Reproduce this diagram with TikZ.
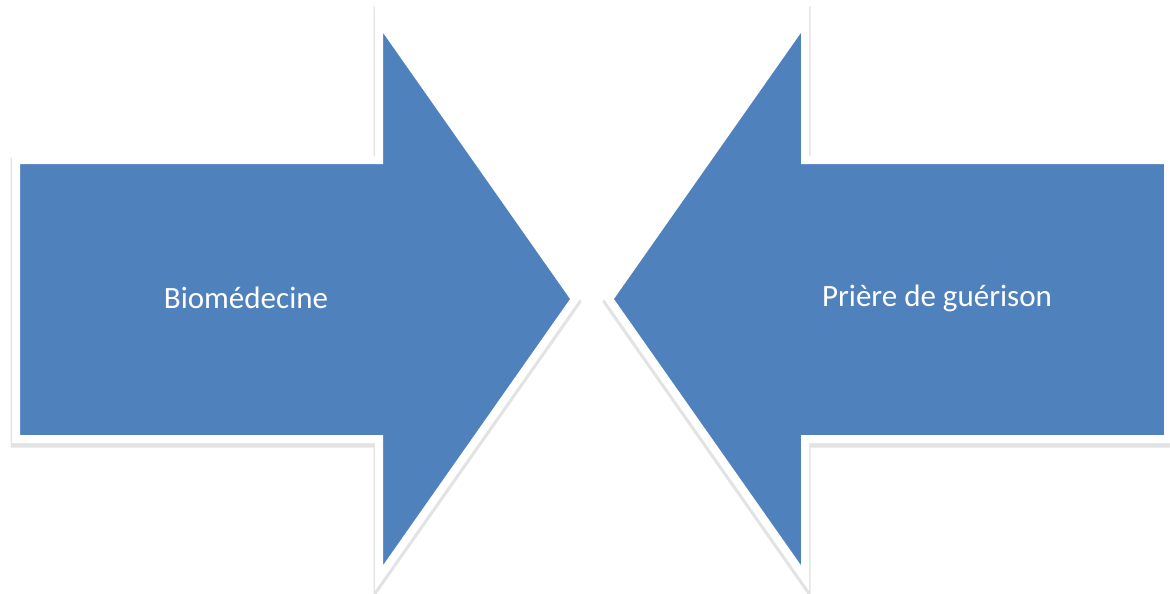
\documentclass[tikz,border=0pt]{standalone}
\usepackage{fontspec}
\setmainfont{Carlito}
\usetikzlibrary{positioning}
\definecolor{arrowblue}{RGB}{79,129,189}
\tikzset{
  bigarrow/.style={fill=arrowblue, draw=white, line width=8pt, line join=miter,
    preaction={draw=black!60, opacity=0.18, line width=11pt, line join=miter,
      transform canvas={yshift=-3pt}}},
  label/.style={font=\fontsize{31}{37}\selectfont, text=white}
}

\begin{document}
\begin{tikzpicture}[x=1pt,y=-1pt]
  \useasboundingbox (0,0) rectangle (1170,594);

  % left arrow pointing right
  \draw[bigarrow] (16,160) -- (379,160) -- (379,20) -- (575,299)
    -- (379,578) -- (379,439) -- (16,439) -- cycle;
  % right arrow pointing left
  \draw[bigarrow] (1168,160) -- (805,160) -- (805,20) -- (609,299)
    -- (805,578) -- (805,439) -- (1168,439) -- cycle;

  \node[label] (bio) at (246,298) {Biomédecine};
  \node[label] (priere) at (937,298) {Prière de guérison};
\end{tikzpicture}
\end{document}
